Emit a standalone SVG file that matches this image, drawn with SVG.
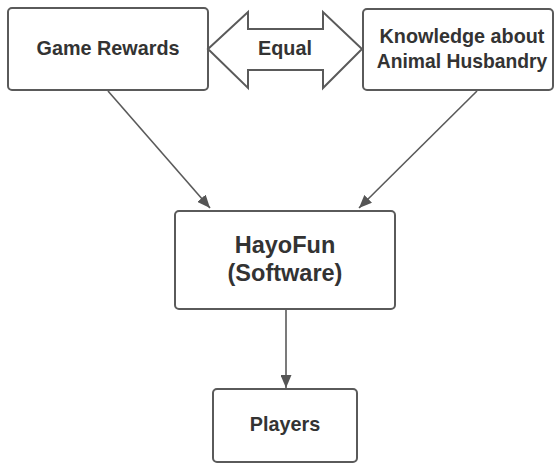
<svg xmlns="http://www.w3.org/2000/svg" width="555" height="464" viewBox="0 0 555 464">
  <defs>
    <marker id="head" viewBox="0 0 13 11" refX="13" refY="5.5" markerWidth="13" markerHeight="11" markerUnits="userSpaceOnUse" orient="auto">
      <path d="M0,0 L13,5.5 L0,11 Z" fill="#555"/>
    </marker>
    <style>
      .box { fill: #fff; stroke: #5a5a5a; stroke-width: 2; }
      .lbl { font-family: "Liberation Sans", Arial, sans-serif; font-weight: bold; fill: #333; text-anchor: middle; }
      .edge { stroke: #5a5a5a; stroke-width: 1.6; fill: none; marker-end: url(#head); }
    </style>
  </defs>
  <rect width="555" height="464" fill="#fff"/>

  <g id="connectors">
    <line class="edge" x1="108" y1="91" x2="210" y2="208"/>
    <line class="edge" x1="477" y1="91" x2="359" y2="208"/>
    <line class="edge" x1="286" y1="310" x2="286" y2="388"/>
  </g>

  <g id="game-rewards">
    <rect class="box" x="8" y="8" width="200" height="82" rx="4"/>
    <text class="lbl" x="108" y="55" font-size="19.8">Game Rewards</text>
  </g>

  <g id="equal">
    <polygon class="box" stroke-width="2.5" stroke-linejoin="miter" points="208,49 248,12 248,29 323,29 323,12 362,49 323,88 323,70 248,70 248,88"/>
    <text class="lbl" x="285" y="55" font-size="19.8">Equal</text>
  </g>

  <g id="knowledge">
    <rect class="box" x="363" y="9" width="190" height="81" rx="4"/>
    <text class="lbl" x="462" y="43" font-size="19.8">Knowledge about</text>
    <text class="lbl" x="462" y="68" font-size="19.3">Animal Husbandry</text>
  </g>

  <g id="hayofun">
    <rect class="box" x="175" y="211" width="220" height="98" rx="4"/>
    <text class="lbl" x="285" y="253" font-size="23.5">HayoFun</text>
    <text class="lbl" x="285" y="281" font-size="23.5">(Software)</text>
  </g>

  <g id="players">
    <rect class="box" x="213" y="389" width="144" height="73" rx="4"/>
    <text class="lbl" x="285" y="431" font-size="19.8">Players</text>
  </g>
</svg>
